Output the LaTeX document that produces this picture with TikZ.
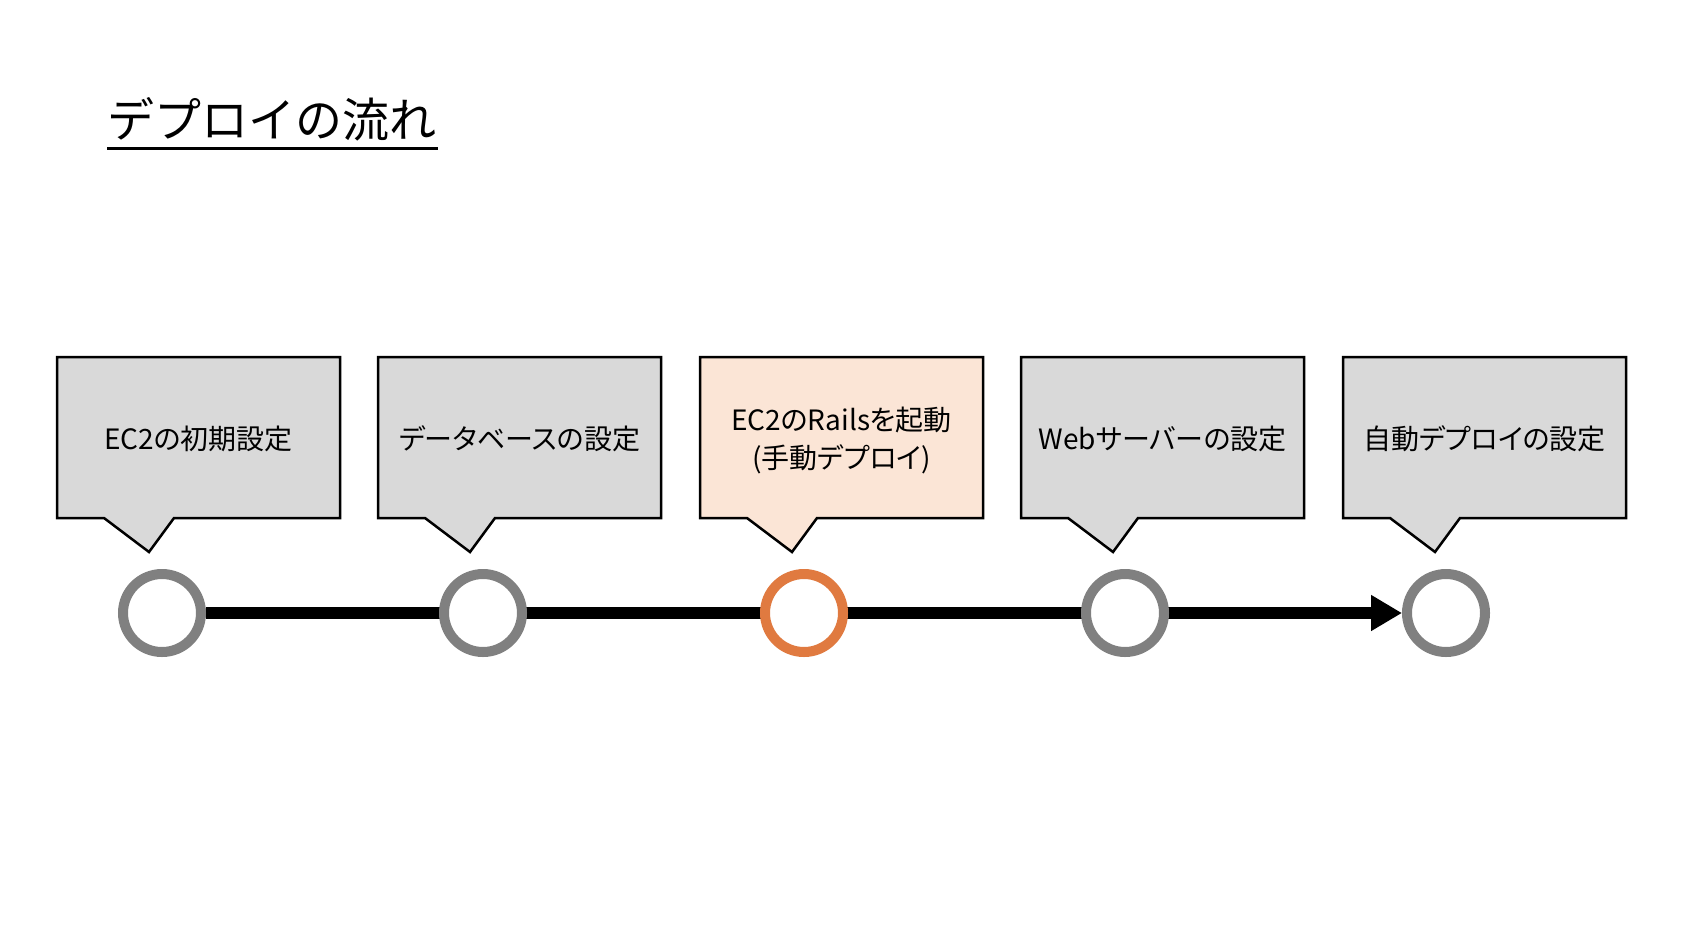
\documentclass[tikz,border=0pt]{standalone}
\usepackage{fontspec}
\setmainfont{Noto Sans CJK JP}
\newfontfamily\paltfont[RawFeature=+palt]{Noto Sans CJK JP}
\usetikzlibrary{arrows.meta,backgrounds}
\definecolor{boxgray}{HTML}{D9D9D9}
\definecolor{boxorange}{HTML}{FBE5D6}
\definecolor{dotgray}{HTML}{808080}
\definecolor{dotorange}{HTML}{E07A40}
\begin{document}
\begin{tikzpicture}[x=1pt,y=1pt,
  box/.style={draw=black,line width=2.5pt,fill=boxgray},
  boxnow/.style={box,fill=boxorange},
  label/.style={font=\paltfont\fontsize{28}{38}\selectfont,align=center,inner sep=0pt},
  dot/.style={circle,draw=dotgray,line width=10pt,fill=white,minimum size=78pt,inner sep=0pt},
  dotnow/.style={dot,draw=dotorange}]
\useasboundingbox (0,0) rectangle (1688,-940);
\node[anchor=base west,inner sep=0pt,font=\fontsize{47}{55}\selectfont] (title) at (107,-137) {デプロイの流れ};
\draw[line width=3pt] (107,-148) to (438,-148);
\draw[box] (57,-357) to (340,-357) to (340,-518) to (174,-518) to (149,-552) to (104,-518) to (57,-518) to cycle;
\draw[box] (378,-357) to (661,-357) to (661,-518) to (495,-518) to (470,-552) to (425,-518) to (378,-518) to cycle;
\draw[boxnow] (700,-357) to (983,-357) to (983,-518) to (817,-518) to (792,-552) to (747,-518) to (700,-518) to cycle;
\draw[box] (1021,-357) to (1304,-357) to (1304,-518) to (1138,-518) to (1113,-552) to (1068,-518) to (1021,-518) to cycle;
\draw[box] (1343,-357) to (1626,-357) to (1626,-518) to (1460,-518) to (1435,-552) to (1390,-518) to (1343,-518) to cycle;
\node[label] (t1) at (198.5,-439) {EC2の初期設定};
\node[label] (t2) at (519.5,-439) {データベースの設定};
\node[label] (t3) at (841.5,-440) {EC2のRailsを起動\\(手動デプロイ)};
\node[label] (t4) at (1162.5,-439) {Webサーバーの設定};
\node[label] (t5) at (1484.5,-439) {自動デプロイの設定};
\node[dot] (c1) at (162,-613) {};
\node[dot] (c2) at (483,-613) {};
\node[dotnow] (c3) at (804,-613) {};
\node[dot] (c4) at (1125,-613) {};
\node[dot] (c5) at (1446,-613) {};
\begin{scope}[on background layer]
\fill[white] (0,0) rectangle (1688,-940);
\draw[line width=12pt,-{Triangle[length=31pt,width=34pt]}] (c1) -- (c5);
\end{scope}
\end{tikzpicture}
\end{document}
